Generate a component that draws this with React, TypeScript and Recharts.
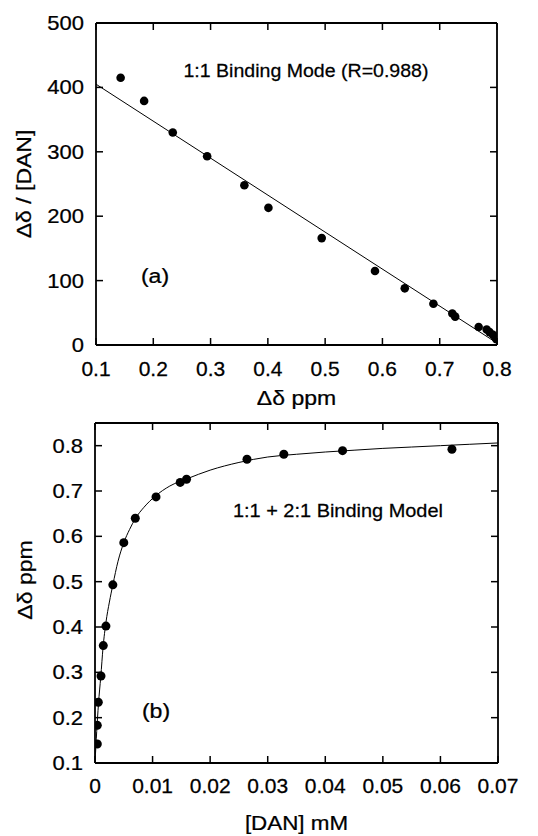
import React from 'react';
import { ComposedChart, XAxis, YAxis, Scatter, Line, ReferenceDot, Label } from 'recharts';

// ---- Panel (a) data ----
const aX = [0.143, 0.184, 0.234, 0.294, 0.359, 0.401, 0.494, 0.587, 0.639, 0.689, 0.722, 0.727, 0.768, 0.782, 0.787, 0.793, 0.797, 0.799];
const aY = [415, 379, 330, 293, 248, 213, 166, 115, 88, 64, 49, 44, 28, 24, 20, 16, 12, 9];
const aFitX = [0.1, 0.8];
const aFitY = [405, 3];
const aXTicks = [0.1, 0.2, 0.3, 0.4, 0.5, 0.6, 0.7, 0.8];
const aYTicks = [0, 100, 200, 300, 400, 500];

// ---- Panel (b) data ----
const bX = [0.0004, 0.0004, 0.00057, 0.00104, 0.00144, 0.0019, 0.0031, 0.005, 0.007, 0.0106, 0.0148, 0.0159, 0.0264, 0.0328, 0.043, 0.062];
const bY = [0.142, 0.183, 0.234, 0.292, 0.359, 0.402, 0.493, 0.586, 0.64, 0.687, 0.719, 0.726, 0.77, 0.781, 0.789, 0.792];
const bFitX = [0, 0.0003, 0.0006, 0.001, 0.0014, 0.0019, 0.0025, 0.0031, 0.004, 0.005, 0.006, 0.007, 0.0085, 0.0105, 0.013, 0.016, 0.02, 0.025, 0.03, 0.035, 0.04, 0.045, 0.05, 0.055, 0.06, 0.065, 0.07];
const bFitY = [0.1, 0.17, 0.23, 0.29, 0.355, 0.41, 0.455, 0.493, 0.545, 0.586, 0.615, 0.639, 0.664, 0.689, 0.711, 0.727, 0.746, 0.763, 0.775, 0.781, 0.786, 0.79, 0.794, 0.797, 0.8, 0.803, 0.806];
const bXTicks = [0, 0.01, 0.02, 0.03, 0.04, 0.05, 0.06, 0.07];
const bYTicks = [0.1, 0.2, 0.3, 0.4, 0.5, 0.6, 0.7, 0.8];

const zip = (xs: number[], ys: number[]) => xs.map((x, i) => ({ x, y: ys[i] }));
const aPts = zip(aX, aY);
const aFit = zip(aFitX, aFitY);
const bPts = zip(bX, bY);
const bFit = zip(bFitX, bFitY);

const FONT = "'Liberation Sans', Arial, Helvetica, sans-serif";
const TL = 7;

const T = ({ x, y, anchor = 'middle', size = 19, sx = 1.05, rot = false, children }: any) => (
  <text
    transform={`translate(${x},${y})${rot ? ' rotate(-90)' : ''} scale(${sx},1)`}
    textAnchor={anchor}
    fontSize={size}
    fontFamily={FONT}
    fill="#000"
    stroke="#000"
    strokeWidth={0.25}
  >
    {children}
  </text>
);

const BottomTick = (dy: number) => (p: any) => (
  <g>
    <line x1={p.x} y1={p.y} x2={p.x} y2={p.y - TL} stroke="#000" strokeWidth={1.5} />
    <T x={p.x} y={p.y + dy} size={20} sx={1.05}>{String(p.payload.value)}</T>
  </g>
);
const LeftTick = (dy: number) => (p: any) => (
  <g>
    <line x1={p.x} y1={p.y} x2={p.x + TL} y2={p.y} stroke="#000" strokeWidth={1.5} />
    <T x={p.x - 12} y={p.y + dy} anchor="end" size={20} sx={1.1}>{String(p.payload.value)}</T>
  </g>
);
const TopTick = (p: any) => (
  <line x1={p.x} y1={p.y} x2={p.x} y2={p.y + TL} stroke="#000" strokeWidth={1.5} />
);
const RightTick = (p: any) => (
  <line x1={p.x} y1={p.y} x2={p.x - TL} y2={p.y} stroke="#000" strokeWidth={1.5} />
);

const axisLine = { stroke: '#000', strokeWidth: 1.8 };

const TextAt = (text: string, size = 19, sx = 1.03) => (props: any) => {
  const vb = props.viewBox || {};
  return <T x={vb.x} y={vb.y} size={size} sx={sx}>{text}</T>;
};

export default function App() {
  return (
    <div style={{ position: 'absolute', left: 0, top: 0, width: 538, height: 836, background: '#fff' }}>
      <ComposedChart width={538} height={420} margin={{ top: 22, right: 40, bottom: 25, left: 0 }}>
        <XAxis
          dataKey="x" type="number" domain={[0.1, 0.8]} ticks={aXTicks} interval={0}
          allowDataOverflow height={50} tickSize={0} tickMargin={0} tickLine={false}
          axisLine={axisLine} tick={BottomTick(31)}
        >
          <Label content={(p: any) => {
            const vb = p.viewBox;
            return <T x={vb.x + vb.width / 2} y={vb.y + 60} size={20} sx={1.15}>Δδ ppm</T>;
          }} />
        </XAxis>
        <XAxis
          xAxisId="top" orientation="top" dataKey="x" type="number" domain={[0.1, 0.8]} ticks={aXTicks}
          interval={0} allowDataOverflow height={1} tickSize={0} tickMargin={0} tickLine={false}
          axisLine={axisLine} tick={TopTick}
        />
        <YAxis
          dataKey="y" type="number" domain={[0, 500]} ticks={aYTicks} interval={0} allowDataOverflow
          width={96} tickSize={0} tickMargin={0} tickLine={false} axisLine={axisLine} tick={LeftTick(7)}
        >
          <Label content={(p: any) => {
            const vb = p.viewBox;
            return <T x={31} y={vb.y + vb.height / 2} rot size={20} sx={1.15}>Δδ / [DAN]</T>;
          }} />
        </YAxis>
        <YAxis
          yAxisId="right" orientation="right" dataKey="y" type="number" domain={[0, 500]} ticks={aYTicks}
          interval={0} allowDataOverflow width={1} tickSize={0} tickMargin={0} tickLine={false}
          axisLine={axisLine} tick={RightTick}
        />
        <Line data={aFit} dataKey="y" type="linear" stroke="#000" strokeWidth={1} dot={false} isAnimationActive={false} />
        <Scatter data={aPts} dataKey="y" fill="#000" isAnimationActive={false}
          shape={(p: any) => <circle cx={p.cx} cy={p.cy} r={4.3} fill="#000" />} />
        <ReferenceDot x={0.4665} y={416} r={0} fill="none" stroke="none" ifOverflow="visible"
          label={TextAt('1:1 Binding Mode (R=0.988)')} />
        <ReferenceDot x={0.203} y={96} r={0} fill="none" stroke="none" ifOverflow="visible"
          label={TextAt('(a)', 21, 1.1)} />
      </ComposedChart>

      <ComposedChart width={538} height={416} margin={{ top: 2, right: 39, bottom: 23, left: 0 }}>
        <XAxis
          dataKey="x" type="number" domain={[0, 0.07]} ticks={bXTicks} interval={0}
          allowDataOverflow height={50} tickSize={0} tickMargin={0} tickLine={false}
          axisLine={axisLine} tick={BottomTick(30)}
        >
          <Label content={(p: any) => {
            const vb = p.viewBox;
            return <T x={vb.x + vb.width / 2} y={vb.y + 67} size={20} sx={1.12}>[DAN] mM</T>;
          }} />
        </XAxis>
        <XAxis
          xAxisId="top" orientation="top" dataKey="x" type="number" domain={[0, 0.07]} ticks={bXTicks}
          interval={0} allowDataOverflow height={1} tickSize={0} tickMargin={0} tickLine={false}
          axisLine={axisLine} tick={TopTick}
        />
        <YAxis
          dataKey="y" type="number" domain={[0.1, 0.85]} ticks={bYTicks} interval={0} allowDataOverflow
          width={95} tickSize={0} tickMargin={0} tickLine={false} axisLine={axisLine} tick={LeftTick(7)}
        >
          <Label content={(p: any) => {
            const vb = p.viewBox;
            return <T x={32} y={vb.y + vb.height / 2 - 13} rot size={20} sx={1.15}>Δδ ppm</T>;
          }} />
        </YAxis>
        <YAxis
          yAxisId="right" orientation="right" dataKey="y" type="number" domain={[0.1, 0.85]} ticks={bYTicks}
          interval={0} allowDataOverflow width={1} tickSize={0} tickMargin={0} tickLine={false}
          axisLine={axisLine} tick={RightTick}
        />
        <Line data={bFit} dataKey="y" type="monotone" stroke="#000" strokeWidth={1} dot={false} isAnimationActive={false} />
        <Scatter data={bPts} dataKey="y" fill="#000" isAnimationActive={false}
          shape={(p: any) => <circle cx={p.cx} cy={p.cy} r={4.5} fill="#000" />} />
        <ReferenceDot x={0.0422} y={0.643} r={0} fill="none" stroke="none" ifOverflow="visible"
          label={TextAt('1:1 + 2:1 Binding Model', 19, 1.05)} />
        <ReferenceDot x={0.0106} y={0.2} r={0} fill="none" stroke="none" ifOverflow="visible"
          label={TextAt('(b)', 21, 1.1)} />
      </ComposedChart>
    </div>
  );
}
